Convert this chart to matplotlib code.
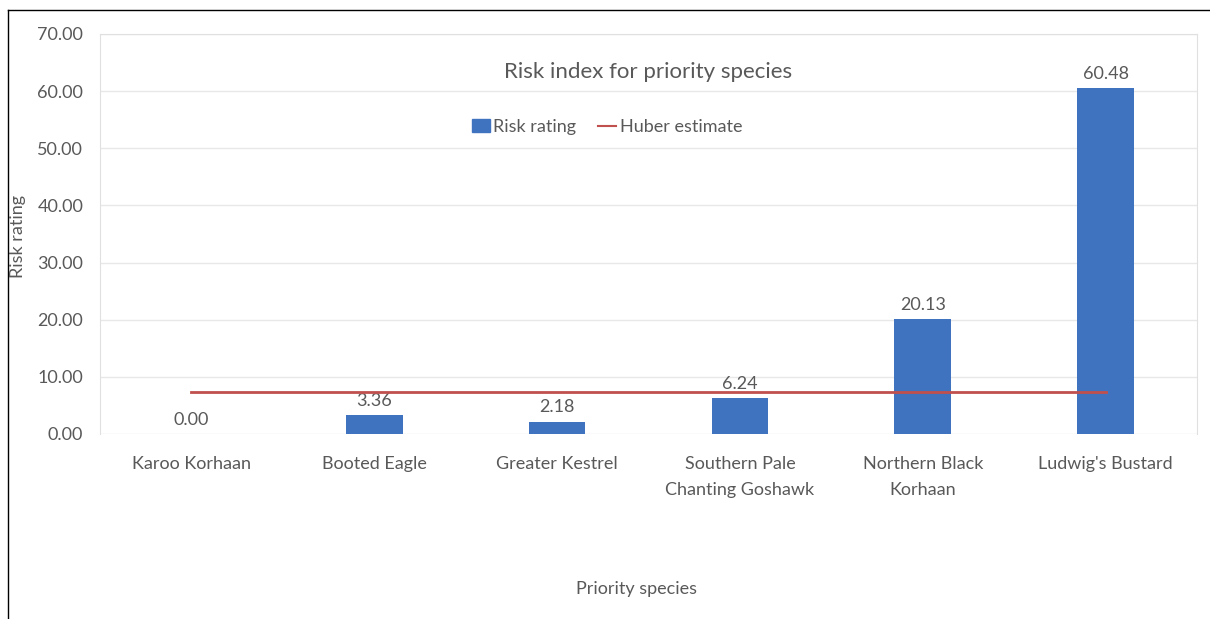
import numpy as np
import matplotlib.pyplot as plt
from matplotlib.lines import Line2D

# data
species = ["Karoo Korhaan", "Booted Eagle", "Greater Kestrel",
           "Southern Pale\nChanting Goshawk", "Northern Black\nKorhaan", "Ludwig's Bustard"]
risk_rating = [0.00, 3.36, 2.18, 6.24, 20.13, 60.48]
huber_estimate = 7.4
y_ticks = [0, 10, 20, 30, 40, 50, 60, 70]

plt.rcParams['font.family'] = ['Lato', 'DejaVu Sans']
text_col = '#595959'
bar_col = '#3f73c0'
line_col = '#c0504d'

fig = plt.figure(figsize=(12.10, 6.19), dpi=100)
ax = fig.add_axes([100/1210, 1-434/619, 1097/1210, 400/619])

x = np.arange(len(species))
ax.bar(x, risk_rating, width=0.31, color=bar_col, label='Risk rating', zorder=3)
ax.plot([x[0], x[-1]], [huber_estimate, huber_estimate], color=line_col, lw=2,
        label='Huber estimate', zorder=4)

for xi, v in zip(x, risk_rating):
    ax.text(xi, v + 1.1, f"{v:.2f}", ha='center', va='bottom', fontsize=13, color=text_col)

ax.set_xlim(-0.5, len(species) - 0.5)
ax.set_ylim(0, 70)
ax.set_yticks(y_ticks)
ax.set_yticklabels([f"{t:.2f}" for t in y_ticks])
ax.set_xticks(x)
ax.set_xticklabels(species, linespacing=1.75)
ax.tick_params(axis='y', length=0, pad=12, labelsize=13, labelcolor=text_col)
ax.tick_params(axis='x', length=0, pad=16, labelsize=13, labelcolor=text_col)
ax.grid(axis='y', color='#e8e8e8', lw=1, zorder=0)
for s in ax.spines.values():
    s.set_color('#e0e0e0')
ax.spines['bottom'].set_visible(False)

fig.text(648/1210, 1-72/619, 'Risk index for priority species',
         ha='center', va='center', fontsize=16, color=text_col)
handles = [plt.Rectangle((0, 0), 1, 1, color=bar_col),
           Line2D([0], [0], color=line_col, lw=1.5)]
fig.legend(handles, ['Risk rating', 'Huber estimate'], loc='center',
           bbox_to_anchor=(607/1210, 1-127/619), ncol=2, frameon=False,
           fontsize=13, labelcolor=text_col, handlelength=1.0, handletextpad=0.2,
           columnspacing=1.2)

fig.text(637/1210, 1-589/619, 'Priority species', ha='center', va='center',
         fontsize=13, color=text_col)
fig.text(18/1210, 1-236/619, 'Risk rating', ha='center', va='center',
         rotation=90, fontsize=13, color=text_col)

# outer frame (top and left edges)
fig.add_artist(Line2D([8/1210, 1], [1-10/619, 1-10/619], transform=fig.transFigure,
                      color='black', lw=1))
fig.add_artist(Line2D([8/1210, 8/1210], [0, 1-10/619], transform=fig.transFigure,
                      color='black', lw=1))

fig.savefig('out.png', dpi=100)
